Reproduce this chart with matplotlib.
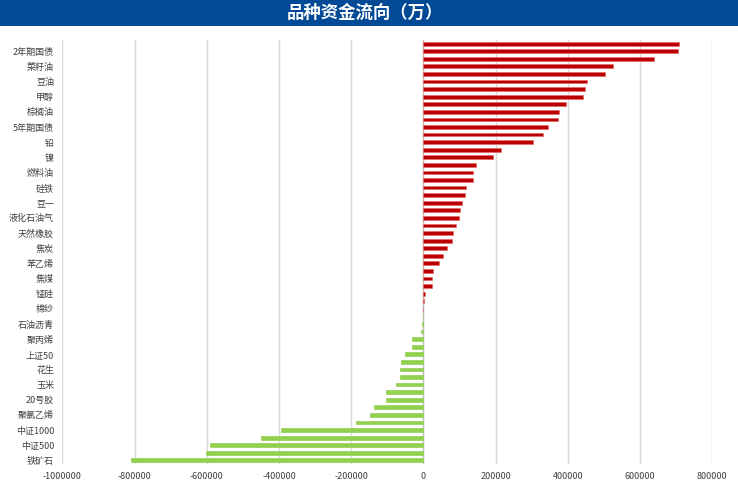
import numpy as np
import matplotlib
matplotlib.use('Agg')
import matplotlib.pyplot as plt
from matplotlib.patches import Rectangle

plt.rcParams['font.family'] = ['Noto Sans CJK SC', 'DejaVu Sans']

# 56 品种，从上到下；只有隔一个的品种显示名称
nombres = [
    '', '2年期国债', '', '菜籽油', '', '豆油', '', '甲醇', '', '棕榈油',
    '', '5年期国债', '', '铅', '', '镍', '', '燃料油', '', '硅铁',
    '', '豆一', '', '液化石油气', '', '天然橡胶', '', '焦炭', '', '苯乙烯',
    '', '焦煤', '', '锰硅', '', '棉纱', '', '石油沥青', '', '聚丙烯',
    '', '上证50', '', '花生', '', '玉米', '', '20号胶', '', '聚氯乙烯',
    '', '中证1000', '', '中证500', '', '铁矿石',
]

valores = [
    708600, 704000, 637700, 524200, 503800, 452200, 446700, 442000, 394100, 374700,
    372000, 345200, 330400, 304500, 215900, 192000, 146800, 138400, 136700, 118200,
    114500, 106200, 100700, 99700, 90500, 83000, 79400, 64700, 54500, 43000,
    27700, 24000, 23000, 5500, 3000, 200, -200, -3500, -6400, -31300,
    -30500, -49800, -61700, -64500, -63500, -75600, -103200, -103000, -136500, -147500,
    -186300, -393900, -449300, -590400, -601500, -811000,
]

ticks_x = [-1000000, -800000, -600000, -400000, -200000, 0, 200000, 400000, 600000, 800000]

fig = plt.figure(figsize=(7.38, 4.8), dpi=100)

# Banda del título
fig.patches.append(Rectangle((0, 0.946), 1, 0.054, transform=fig.transFigure,
                             facecolor='#024A96', edgecolor='none', zorder=0))
fig.text(0.495, 0.973, '品种资金流向（万）', color='white', fontsize=12.5,
         fontweight='bold', ha='center', va='center')

ax = fig.add_axes([0.0845, 0.033, 0.8805, 0.884])

n = len(valores)
pos = np.arange(n)
vals = np.array(valores)
colores = np.where(vals >= 0, '#B80000', '#92D050')
bordes = np.where(vals >= 0, '#E86A6A', '#92D050')

ax.barh(pos, vals, height=0.5, color=colores, edgecolor=bordes, linewidth=0.5, zorder=3)

ax.set_ylim(n - 0.5, -0.5)
ax.set_xlim(-1000000, 800000)

# Cuadrícula vertical
ax.set_xticks(ticks_x)
ax.set_xticklabels([str(t) for t in ticks_x], fontsize=6.5, color='#404040')
ax.grid(axis='x', color='#D9D9D9', linewidth=1, zorder=0)
ax.axvline(0, color='#BFBFBF', linewidth=1, zorder=2)

etiquetados = [i for i, s in enumerate(nombres) if s]
ax.set_yticks(etiquetados)
ax.set_yticklabels([nombres[i] for i in etiquetados], fontsize=6.5, color='#404040')

ax.tick_params(axis='both', length=0, pad=6)
for s in ax.spines.values():
    s.set_visible(False)

fig.savefig('out.png', dpi=100)
